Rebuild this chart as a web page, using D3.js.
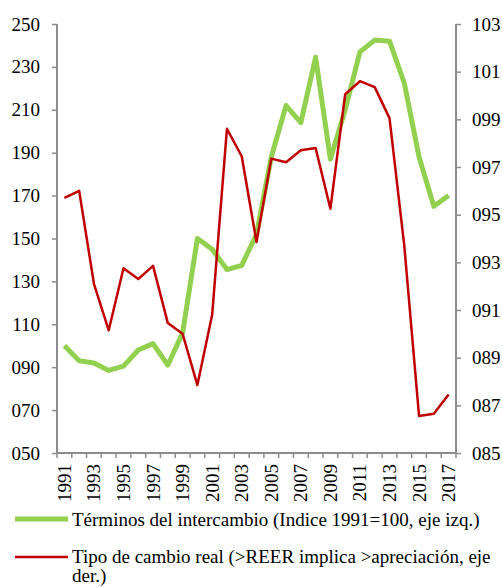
<!DOCTYPE html>
<html>
<head>
<meta charset="utf-8">
<script src="https://cdn.jsdelivr.net/npm/d3@7"></script>
<style>
  body { margin: 0; background: #fff; }
  text { font-family: "Liberation Serif", "Times New Roman", serif; fill: #000; }
</style>
</head>
<body>
<div id="chart"></div>
<script>
// data
const years = d3.range(1991, 2018);
const terminos = [100, 93, 92, 88.5, 90.5, 98, 101, 91, 106, 150, 145, 135.5, 137.5, 152,
  188, 212, 204, 234.5, 187, 210, 237, 242.5, 242, 222.5, 188, 165, 170];
const tipoCambio = [95.7, 96.0, 92.1, 90.15, 92.75, 92.3, 92.85, 90.45, 90.0, 87.85, 90.8, 98.6, 97.45, 93.85,
  97.35, 97.2, 97.7, 97.8, 95.25, 100.05, 100.6, 100.35, 99.05, 93.7, 86.55, 86.65, 87.45];
const leftTicks = d3.range(50, 251, 20);
const rightTicks = d3.range(85, 104, 2);
const legendLabels = [
  'Términos del intercambio (Indice 1991=100, eje izq.)',
  'Tipo de cambio real (>REER implica >apreciación, eje'
];

const width = 502, height = 587;
const plot = { left: 57, right: 456, top: 24, bottom: 453 };
const green = '#92d050', red = '#c00000', axisColor = '#8c8c8c';
const fontSize = '19px';

const svg = d3.select('#chart').append('svg')
  .attr('width', width)
  .attr('height', height);

const x = d3.scaleBand().domain(years).range([plot.left, plot.right]).padding(0);
const yL = d3.scaleLinear().domain([50, 250]).range([plot.bottom, plot.top]);
const yR = d3.scaleLinear().domain([85, 103]).range([plot.bottom, plot.top]);
const fmt = d3.format('03d');
const cx = d => x(d) + x.bandwidth() / 2;

// left axis
const leftAxis = svg.append('g')
  .attr('transform', `translate(${plot.left},0)`)
  .call(d3.axisLeft(yL).tickValues(leftTicks).tickFormat(fmt).tickSize(5).tickPadding(12));

// right axis
const rightAxis = svg.append('g')
  .attr('transform', `translate(${plot.right},0)`)
  .call(d3.axisRight(yR).tickValues(rightTicks).tickFormat(fmt).tickSize(5).tickPadding(11));

// bottom axis: ticks on category boundaries
const bottom = svg.append('g');
bottom.append('line')
  .attr('x1', plot.left).attr('x2', plot.right)
  .attr('y1', plot.bottom).attr('y2', plot.bottom);
bottom.selectAll('line.tick')
  .data(years.concat([years[years.length - 1] + 1]))
  .enter().append('line')
  .attr('class', 'tick')
  .attr('x1', (d, i) => i < years.length ? x(d) : plot.right)
  .attr('x2', (d, i) => i < years.length ? x(d) : plot.right)
  .attr('y1', plot.bottom).attr('y2', plot.bottom + 5);
bottom.selectAll('text')
  .data(years.filter((d, i) => i % 2 === 0))
  .enter().append('text')
  .attr('transform', d => `translate(${cx(d)},${plot.bottom + 11}) rotate(-90)`)
  .attr('text-anchor', 'end')
  .attr('dy', '0.34em')
  .style('font-size', fontSize)
  .text(d => d);

[leftAxis, rightAxis].forEach(g => {
  g.select('.domain').attr('stroke', axisColor).attr('stroke-width', 2)
    .attr('d', `M0,${plot.top}V${plot.bottom}`);
  g.selectAll('.tick line').attr('stroke', axisColor).attr('stroke-width', 1.5);
  g.selectAll('.tick text').style('font-size', fontSize);
});
bottom.selectAll('line').attr('stroke', axisColor).attr('stroke-width', 1.5);
bottom.select('line').attr('stroke-width', 2);

// lines
const lineL = d3.line().x((d, i) => cx(years[i])).y(d => yL(d));
const lineR = d3.line().x((d, i) => cx(years[i])).y(d => yR(d));

svg.append('path')
  .datum(terminos)
  .attr('d', lineL)
  .attr('fill', 'none')
  .attr('stroke', green)
  .attr('stroke-width', 5)
  .attr('stroke-linejoin', 'round');

svg.append('path')
  .datum(tipoCambio)
  .attr('d', lineR)
  .attr('fill', 'none')
  .attr('stroke', red)
  .attr('stroke-width', 2.5)
  .attr('stroke-linejoin', 'round');

// legend
const legend = svg.append('g');
legend.append('line')
  .attr('x1', 15).attr('x2', 68).attr('y1', 519).attr('y2', 519)
  .attr('stroke', green).attr('stroke-width', 5);
legend.append('text')
  .attr('x', 72).attr('y', 526)
  .style('font-size', fontSize)
  .text(legendLabels[0]);

legend.append('line')
  .attr('x1', 15).attr('x2', 68).attr('y1', 557).attr('y2', 557)
  .attr('stroke', red).attr('stroke-width', 2.5);
const t2 = legend.append('text')
  .attr('x', 72).attr('y', 563)
  .style('font-size', fontSize);
t2.append('tspan').attr('x', 72).text(legendLabels[1]);
t2.append('tspan').attr('x', 72).attr('dy', 19).text('der.)');
</script>
</body>
</html>
